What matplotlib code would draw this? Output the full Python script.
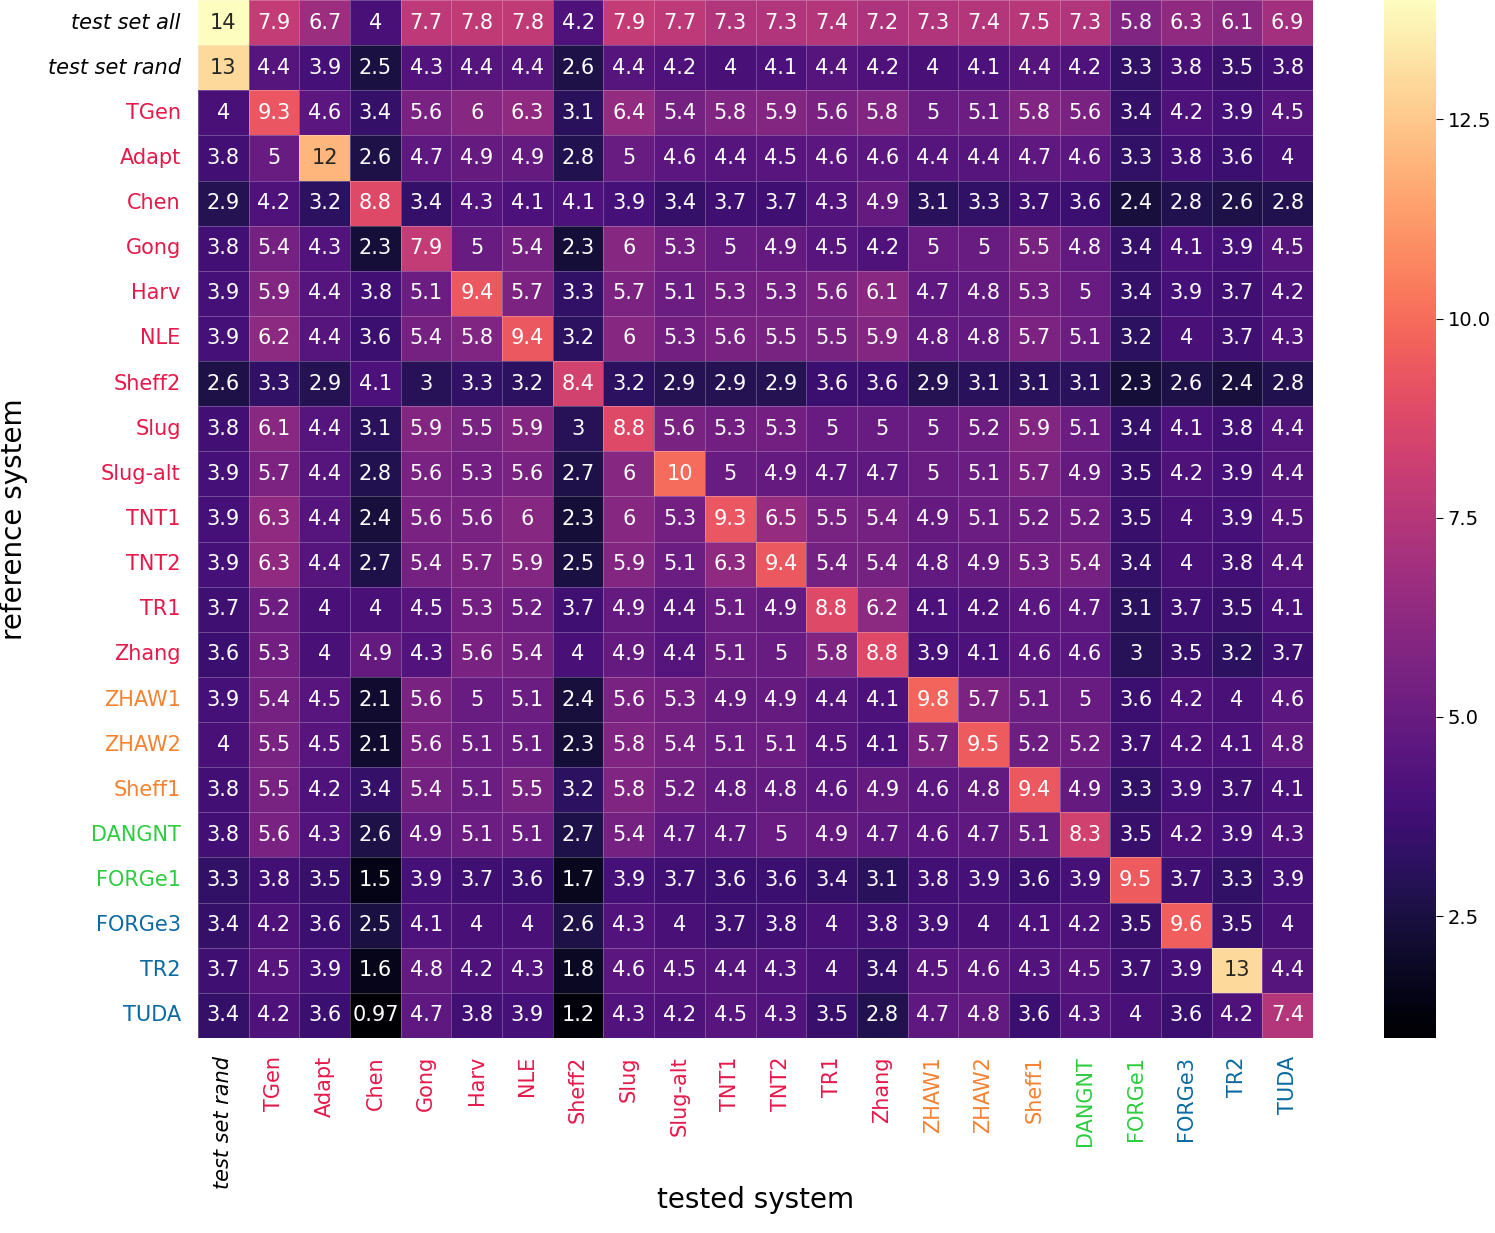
import numpy as np
import matplotlib
matplotlib.use("Agg")
import matplotlib.pyplot as plt
import seaborn as sns

row_labels = ["test set all", "test set rand", "TGen", "Adapt", "Chen", "Gong", "Harv", "NLE",
              "Sheff2", "Slug", "Slug-alt", "TNT1", "TNT2", "TR1", "Zhang", "ZHAW1", "ZHAW2",
              "Sheff1", "DANGNT", "FORGe1", "FORGe3", "TR2", "TUDA"]
col_labels = ["test set rand", "TGen", "Adapt", "Chen", "Gong", "Harv", "NLE", "Sheff2", "Slug",
              "Slug-alt", "TNT1", "TNT2", "TR1", "Zhang", "ZHAW1", "ZHAW2", "Sheff1", "DANGNT",
              "FORGe1", "FORGe3", "TR2", "TUDA"]

values = [
    [14, 7.9, 6.7, 4, 7.7, 7.8, 7.8, 4.2, 7.9, 7.7, 7.3, 7.3, 7.4, 7.2, 7.3, 7.4, 7.5, 7.3, 5.8, 6.3, 6.1, 6.9],
    [13, 4.4, 3.9, 2.5, 4.3, 4.4, 4.4, 2.6, 4.4, 4.2, 4, 4.1, 4.4, 4.2, 4, 4.1, 4.4, 4.2, 3.3, 3.8, 3.5, 3.8],
    [4, 9.3, 4.6, 3.4, 5.6, 6, 6.3, 3.1, 6.4, 5.4, 5.8, 5.9, 5.6, 5.8, 5, 5.1, 5.8, 5.6, 3.4, 4.2, 3.9, 4.5],
    [3.8, 5, 12, 2.6, 4.7, 4.9, 4.9, 2.8, 5, 4.6, 4.4, 4.5, 4.6, 4.6, 4.4, 4.4, 4.7, 4.6, 3.3, 3.8, 3.6, 4],
    [2.9, 4.2, 3.2, 8.8, 3.4, 4.3, 4.1, 4.1, 3.9, 3.4, 3.7, 3.7, 4.3, 4.9, 3.1, 3.3, 3.7, 3.6, 2.4, 2.8, 2.6, 2.8],
    [3.8, 5.4, 4.3, 2.3, 7.9, 5, 5.4, 2.3, 6, 5.3, 5, 4.9, 4.5, 4.2, 5, 5, 5.5, 4.8, 3.4, 4.1, 3.9, 4.5],
    [3.9, 5.9, 4.4, 3.8, 5.1, 9.4, 5.7, 3.3, 5.7, 5.1, 5.3, 5.3, 5.6, 6.1, 4.7, 4.8, 5.3, 5, 3.4, 3.9, 3.7, 4.2],
    [3.9, 6.2, 4.4, 3.6, 5.4, 5.8, 9.4, 3.2, 6, 5.3, 5.6, 5.5, 5.5, 5.9, 4.8, 4.8, 5.7, 5.1, 3.2, 4, 3.7, 4.3],
    [2.6, 3.3, 2.9, 4.1, 3, 3.3, 3.2, 8.4, 3.2, 2.9, 2.9, 2.9, 3.6, 3.6, 2.9, 3.1, 3.1, 3.1, 2.3, 2.6, 2.4, 2.8],
    [3.8, 6.1, 4.4, 3.1, 5.9, 5.5, 5.9, 3, 8.8, 5.6, 5.3, 5.3, 5, 5, 5, 5.2, 5.9, 5.1, 3.4, 4.1, 3.8, 4.4],
    [3.9, 5.7, 4.4, 2.8, 5.6, 5.3, 5.6, 2.7, 6, 10, 5, 4.9, 4.7, 4.7, 5, 5.1, 5.7, 4.9, 3.5, 4.2, 3.9, 4.4],
    [3.9, 6.3, 4.4, 2.4, 5.6, 5.6, 6, 2.3, 6, 5.3, 9.3, 6.5, 5.5, 5.4, 4.9, 5.1, 5.2, 5.2, 3.5, 4, 3.9, 4.5],
    [3.9, 6.3, 4.4, 2.7, 5.4, 5.7, 5.9, 2.5, 5.9, 5.1, 6.3, 9.4, 5.4, 5.4, 4.8, 4.9, 5.3, 5.4, 3.4, 4, 3.8, 4.4],
    [3.7, 5.2, 4, 4, 4.5, 5.3, 5.2, 3.7, 4.9, 4.4, 5.1, 4.9, 8.8, 6.2, 4.1, 4.2, 4.6, 4.7, 3.1, 3.7, 3.5, 4.1],
    [3.6, 5.3, 4, 4.9, 4.3, 5.6, 5.4, 4, 4.9, 4.4, 5.1, 5, 5.8, 8.8, 3.9, 4.1, 4.6, 4.6, 3, 3.5, 3.2, 3.7],
    [3.9, 5.4, 4.5, 2.1, 5.6, 5, 5.1, 2.4, 5.6, 5.3, 4.9, 4.9, 4.4, 4.1, 9.8, 5.7, 5.1, 5, 3.6, 4.2, 4, 4.6],
    [4, 5.5, 4.5, 2.1, 5.6, 5.1, 5.1, 2.3, 5.8, 5.4, 5.1, 5.1, 4.5, 4.1, 5.7, 9.5, 5.2, 5.2, 3.7, 4.2, 4.1, 4.8],
    [3.8, 5.5, 4.2, 3.4, 5.4, 5.1, 5.5, 3.2, 5.8, 5.2, 4.8, 4.8, 4.6, 4.9, 4.6, 4.8, 9.4, 4.9, 3.3, 3.9, 3.7, 4.1],
    [3.8, 5.6, 4.3, 2.6, 4.9, 5.1, 5.1, 2.7, 5.4, 4.7, 4.7, 5, 4.9, 4.7, 4.6, 4.7, 5.1, 8.3, 3.5, 4.2, 3.9, 4.3],
    [3.3, 3.8, 3.5, 1.5, 3.9, 3.7, 3.6, 1.7, 3.9, 3.7, 3.6, 3.6, 3.4, 3.1, 3.8, 3.9, 3.6, 3.9, 9.5, 3.7, 3.3, 3.9],
    [3.4, 4.2, 3.6, 2.5, 4.1, 4, 4, 2.6, 4.3, 4, 3.7, 3.8, 4, 3.8, 3.9, 4, 4.1, 4.2, 3.5, 9.6, 3.5, 4],
    [3.7, 4.5, 3.9, 1.6, 4.8, 4.2, 4.3, 1.8, 4.6, 4.5, 4.4, 4.3, 4, 3.4, 4.5, 4.6, 4.3, 4.5, 3.7, 3.9, 13, 4.4],
    [3.4, 4.2, 3.6, 0.97, 4.7, 3.8, 3.9, 1.2, 4.3, 4.2, 4.5, 4.3, 3.5, 2.8, 4.7, 4.8, 3.6, 4.3, 4, 3.6, 4.2, 7.4],
]

group_colors = {
    "test": "black",
    "red": "#e6194b",
    "orange": "#f58231",
    "green": "#2ecc40",
    "blue": "#0a6aa1",
}
label_group = {
    "test set all": "test", "test set rand": "test",
    "TGen": "red", "Adapt": "red", "Chen": "red", "Gong": "red", "Harv": "red", "NLE": "red",
    "Sheff2": "red", "Slug": "red", "Slug-alt": "red", "TNT1": "red", "TNT2": "red", "TR1": "red",
    "Zhang": "red", "ZHAW1": "orange", "ZHAW2": "orange", "Sheff1": "orange",
    "DANGNT": "green", "FORGe1": "green", "FORGe3": "blue", "TR2": "blue", "TUDA": "blue",
}

data = np.array(values)

fig = plt.figure(figsize=(14.95, 12.33), dpi=100)
ax = fig.add_axes([198 / 1495, 1 - 1038 / 1233, (1313 - 198) / 1495, 1038 / 1233])
cax = fig.add_axes([1384 / 1495, 1 - 1038 / 1233, (1436 - 1384) / 1495, 1038 / 1233])

sns.heatmap(data, ax=ax, cbar_ax=cax, cmap="magma", annot=True, fmt=".2g",
            annot_kws={"fontsize": 15}, linewidths=0.5, linecolor=(1, 1, 1, 0.25),
            xticklabels=col_labels, yticklabels=row_labels)

ax.tick_params(axis="y", length=0, labelsize=15, pad=12.5)
ax.tick_params(axis="x", length=0, labelsize=15, pad=13)
for lbl in ax.get_yticklabels():
    t = lbl.get_text()
    lbl.set_color(group_colors[label_group[t]])
    lbl.set_rotation(0)
    if label_group[t] == "test":
        lbl.set_style("italic")
for lbl in ax.get_xticklabels():
    t = lbl.get_text()
    lbl.set_color(group_colors[label_group[t]])
    lbl.set_rotation(90)
    if label_group[t] == "test":
        lbl.set_style("italic")

ax.set_xlabel("tested system", fontsize=20, labelpad=-2)
ax.set_ylabel("reference system", fontsize=20, labelpad=14)

cax.tick_params(labelsize=14, length=5)
cax.set_yticks([2.5, 5.0, 7.5, 10.0, 12.5])
cax.set_yticklabels(["2.5", "5.0", "7.5", "10.0", "12.5"])
for s in cax.spines.values():
    s.set_visible(False)

fig.savefig("out.png", dpi=100)
